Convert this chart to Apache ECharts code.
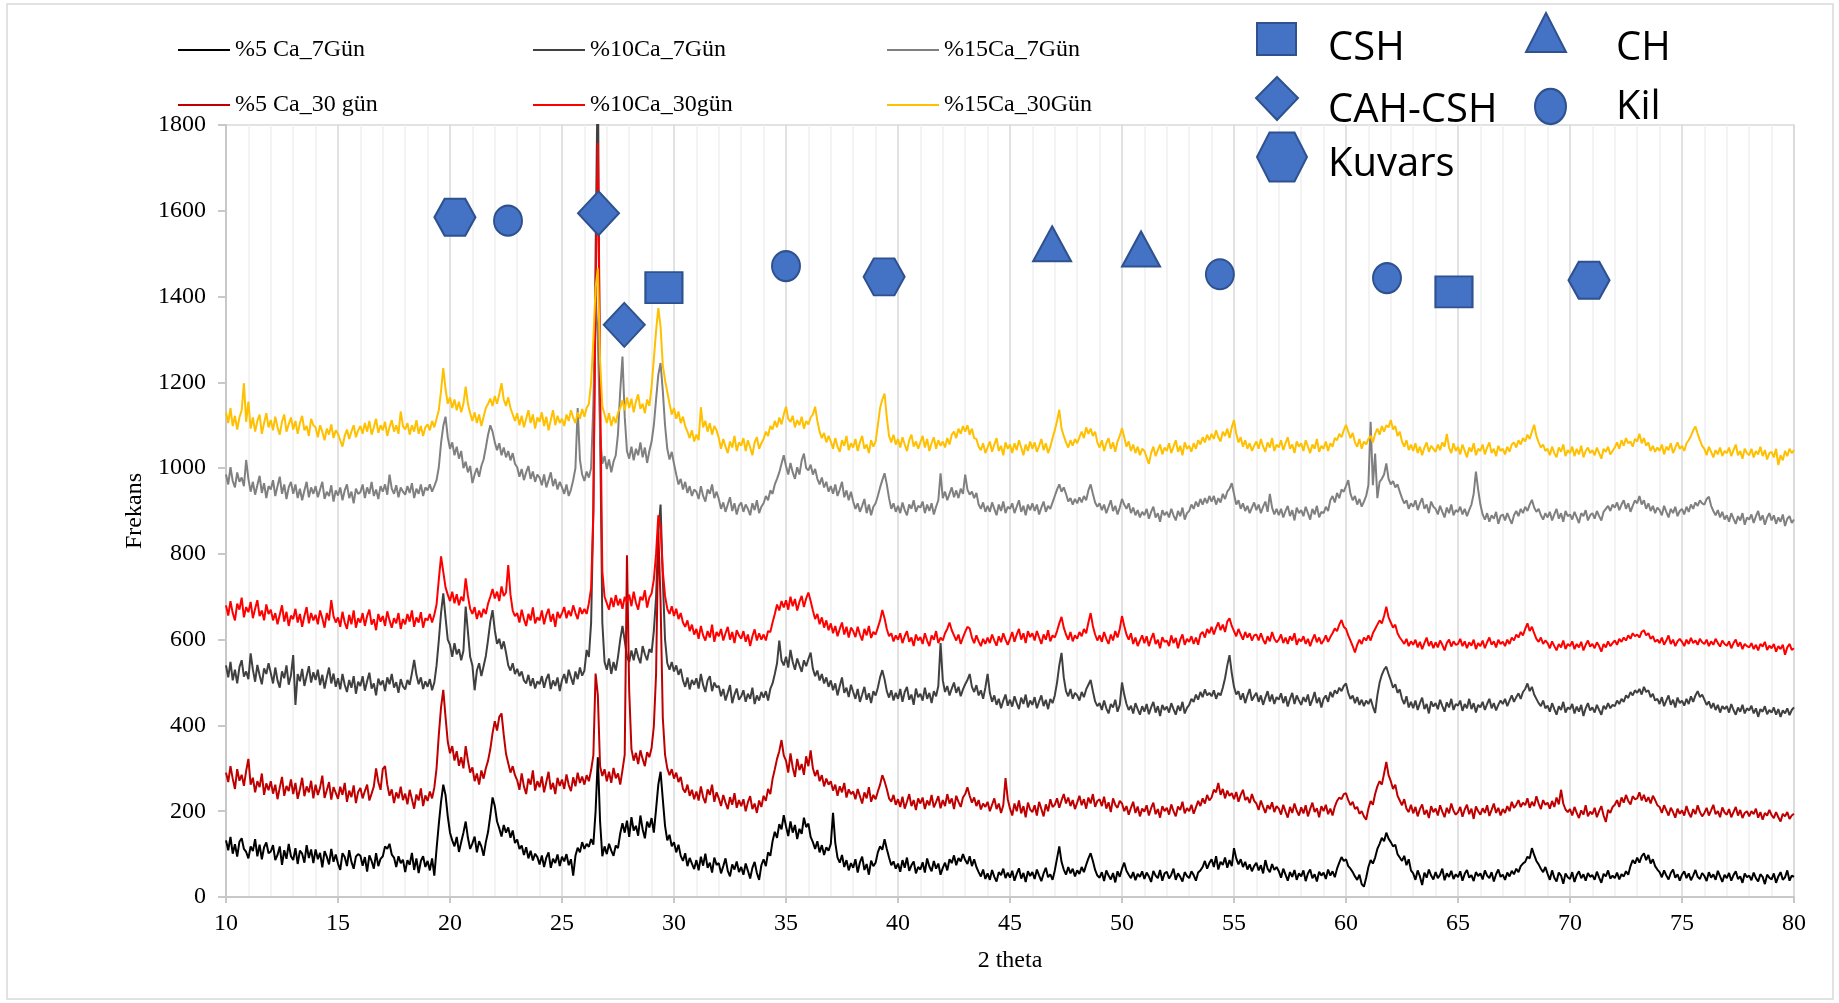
<!DOCTYPE html>
<html>
<head>
<meta charset="utf-8">
<title>XRD</title>
<style>
  html, body { margin: 0; padding: 0; background: #ffffff; }
  #chart { width: 1839px; height: 1003px; }
</style>
<script src="https://cdn.jsdelivr.net/npm/echarts@6/dist/echarts.min.js"></script>
</head>
<body>
<div id="chart"></div>
<script>
// 2θ sampling: 10.0° to 80.0° in 0.1° steps, one row per degree
const thetaStart = 10;
const thetaStep = 0.1;

// %5 Ca_7Gün
const ca5_7 = [
  [132,109,140,101,123,94,129,137,112,105],
  [90,118,107,135,95,122,88,116,127,102],
  [106,121,86,98,118,75,109,89,124,95],
  [86,114,77,108,101,80,121,91,111,79],
  [111,88,103,69,107,94,76,112,82,99],
  [78,63,102,93,72,109,82,66,94,100],
  [96,73,93,59,97,84,66,102,72,89],
  [95,118,112,124,99,92,70,95,79,87],
  [58,86,75,103,63,90,56,84,95,70],
  [84,62,90,50,112,170,222,262,238,188],
  [150,132,118,140,105,128,150,176,138,112],
  [125,141,104,130,118,96,128,152,190,232],
  [212,176,160,141,168,150,162,138,155,126],
  [134,112,120,98,116,90,108,85,101,93],
  [76,97,70,92,104,68,89,79,99,72],
  [94,83,100,74,88,50,96,115,104,128],
  [112,124,117,135,122,200,326,176,95,118],
  [100,124,108,96,120,114,148,172,150,178],
  [140,186,155,166,143,190,158,137,176,162],
  [184,150,205,262,292,228,166,132,145,118],
  [128,104,122,96,84,102,72,91,78,65],
  [86,62,94,73,101,68,80,57,92,75],
  [79,55,72,90,61,48,76,64,83,58],
  [70,52,78,61,43,68,82,56,40,74],
  [88,72,104,96,130,152,138,170,158,191],
  [165,142,176,150,168,135,159,147,185,163],
  [171,140,128,112,130,104,121,98,116,108],
  [124,196,126,92,80,98,70,86,62,79],
  [68,88,57,81,94,63,77,52,85,72],
  [80,104,118,110,135,112,92,74,83,66],
  [78,59,86,68,92,61,74,83,55,70],
  [64,81,57,90,71,60,84,66,78,52],
  [68,80,62,88,79,97,74,91,83,100],
  [86,77,95,72,88,70,58,48,64,42],
  [55,40,63,47,36,58,51,66,44,57],
  [45,61,38,54,67,43,56,35,60,49],
  [58,42,64,50,37,55,68,46,53,40],
  [62,90,118,82,64,52,70,55,66,48],
  [62,54,70,58,75,90,102,84,63,50],
  [45,58,37,62,50,41,56,34,60,47],
  [66,80,61,52,44,58,39,54,47,60],
  [42,57,48,35,61,50,44,63,38,55],
  [59,43,52,66,40,55,47,36,58,49],
  [44,60,51,38,57,62,70,84,66,79],
  [88,70,95,64,82,75,92,68,86,72],
  [114,90,76,88,70,82,64,76,60,72],
  [80,62,74,55,86,66,58,77,63,70],
  [60,45,66,52,38,58,47,63,40,55],
  [48,62,37,55,64,44,53,36,59,50],
  [57,42,64,50,60,46,66,80,93,84],
  [88,72,66,58,48,40,52,30,24,45],
  [70,86,78,92,112,124,138,130,150,136],
  [128,118,122,100,92,84,96,74,88,62],
  [55,40,62,48,28,57,45,64,50,41],
  [58,44,52,66,39,55,47,61,42,53],
  [46,60,38,54,63,45,51,37,58,49],
  [55,41,62,50,44,58,36,53,64,47],
  [52,40,57,48,61,53,66,58,72,78],
  [82,94,90,114,98,84,76,66,58,70],
  [54,40,62,45,36,57,50,31,55,46],
  [42,58,35,51,60,44,53,38,56,47],
  [51,40,59,45,33,54,48,62,43,50],
  [44,57,41,53,48,60,52,72,86,78],
  [92,80,95,102,86,98,78,88,72,64],
  [58,46,62,50,41,56,64,45,53,38],
  [52,60,44,55,39,50,63,47,42,56],
  [49,37,58,45,53,40,61,48,35,52],
  [44,56,38,51,60,42,48,33,55,46],
  [50,39,57,44,36,53,47,30,52,45],
  [41,55,33,48,58,40,46,62,38,50],
  [47]
];

// %10Ca_7Gün
const ca10_7 = [
  [540,512,548,505,530,498,536,552,514,526],
  [508,568,530,502,541,517,496,533,520,545],
  [522,498,535,505,488,526,510,540,495,517],
  [564,448,520,503,532,492,515,538,500,524],
  [506,530,494,518,486,512,535,498,521,490],
  [510,484,520,495,478,506,488,515,474,502],
  [492,515,481,503,523,486,498,470,509,494],
  [505,480,512,496,520,488,501,476,508,491],
  [484,506,495,522,553,518,496,512,485,503],
  [490,508,482,500,540,598,662,708,652,600],
  [588,560,592,566,578,552,574,677,618,560],
  [540,482,528,545,515,538,562,600,642,669],
  [622,590,602,578,596,570,540,528,545,520],
  [532,515,526,505,498,518,492,510,486,503],
  [496,515,488,508,520,485,505,492,512,480],
  [506,520,498,530,512,495,526,508,535,516],
  [528,576,560,640,900,1500,1950,1100,640,548],
  [530,556,520,548,528,560,600,632,598,560],
  [548,575,552,580,560,545,585,566,552,578],
  [570,620,700,850,915,742,600,545,530,548],
  [526,540,518,532,505,490,512,484,506,495],
  [510,486,520,494,478,505,515,480,500,489],
  [492,468,485,458,476,494,452,472,486,460],
  [468,482,455,474,462,488,450,470,458,478],
  [465,480,458,485,498,520,545,598,552,540],
  [560,535,576,548,530,556,540,525,552,538],
  [555,570,532,515,528,505,520,498,512,490],
  [505,482,498,470,492,512,476,488,466,495],
  [478,462,485,455,472,490,460,475,452,480],
  [470,488,512,529,508,480,465,482,458,476],
  [462,485,455,478,490,460,472,448,486,466],
  [474,458,488,462,476,452,480,468,492,592],
  [505,478,492,470,486,500,476,490,468,484],
  [496,506,520,490,478,494,470,482,462,488],
  [520,476,455,470,448,462,440,458,472,446],
  [460,444,468,452,438,465,450,472,442,458],
  [448,466,440,456,470,445,460,438,462,452],
  [470,500,540,569,512,480,468,485,462,476],
  [470,458,478,466,484,495,506,480,456,445],
  [452,436,458,440,428,450,442,460,432,448],
  [500,472,450,436,446,428,452,438,425,445],
  [432,450,426,442,455,430,445,422,448,436],
  [444,430,452,438,425,446,434,455,428,441],
  [448,462,455,472,460,478,466,484,470,476],
  [468,482,462,476,470,488,510,540,564,522],
  [490,472,480,460,475,452,470,485,458,468],
  [476,455,470,448,465,480,456,472,450,466],
  [460,475,452,468,444,462,476,450,470,458],
  [448,466,455,472,446,460,478,452,465,442],
  [462,470,455,478,466,482,474,488,480,492],
  [498,476,462,470,452,466,448,460,445,458],
  [450,462,444,429,470,500,518,530,537,520],
  [505,488,496,476,484,462,450,468,442,455],
  [440,458,436,452,465,438,450,428,456,444],
  [452,438,460,445,432,454,442,462,436,450],
  [446,458,434,450,440,462,438,452,430,448],
  [442,455,436,450,462,440,452,435,448,458],
  [450,462,445,458,470,455,466,475,462,478],
  [485,498,480,490,472,462,452,445,458,440],
  [446,432,452,438,425,445,436,455,430,442],
  [438,450,428,444,432,448,422,440,452,435],
  [442,430,448,436,425,446,438,452,440,448],
  [445,458,450,462,455,470,464,478,470,482],
  [476,485,472,490,478,482,466,474,458,462],
  [450,466,445,458,470,448,460,442,465,452],
  [458,446,462,450,468,455,470,480,466,472],
  [460,448,456,440,452,436,448,430,445,438],
  [445,430,450,436,425,442,432,448,428,440],
  [435,446,428,440,420,438,432,445,426,436],
  [430,442,425,438,420,435,428,440,424,436],
  [442]
];

// %15Ca_7Gün
const ca15_7 = [
  [985,962,1002,970,955,990,968,978,958,1019],
  [975,945,968,938,960,982,942,965,930,958],
  [950,972,935,958,980,940,962,928,955,968],
  [940,962,930,952,925,948,968,932,955,940],
  [958,932,950,968,928,945,935,960,922,948],
  [936,955,925,948,962,930,945,918,952,940],
  [944,962,930,955,940,968,935,950,928,958],
  [945,962,938,985,952,940,960,932,955,945],
  [938,958,942,965,930,952,940,962,935,955],
  [948,962,945,958,972,1002,1058,1098,1120,1072],
  [1045,1060,1030,1050,1022,1040,1000,1015,990,1005],
  [965,985,1000,980,1005,1020,1048,1078,1100,1085],
  [1060,1042,1058,1030,1048,1025,1040,1018,1035,1010],
  [1002,980,998,972,990,1005,975,992,968,985],
  [978,960,985,955,972,990,958,975,950,968],
  [955,940,962,935,950,972,1000,1140,1020,985],
  [970,992,978,1000,1150,1400,1300,1080,1010,1028],
  [998,1020,990,1015,1030,1080,1180,1260,1120,1040],
  [1022,1050,1018,1045,1030,1060,1025,1048,1012,1040],
  [1062,1100,1160,1218,1245,1180,1100,1045,1020,1038],
  [1010,985,962,975,950,968,942,958,935,950],
  [945,928,958,935,922,950,940,962,930,945],
  [928,905,920,898,915,932,900,918,892,912],
  [920,898,915,905,890,918,902,925,895,910],
  [918,935,925,948,940,962,975,990,1010,1030],
  [1005,985,1012,990,975,1002,985,1018,1034,1000],
  [995,1008,985,998,975,962,978,955,968,945],
  [958,940,962,935,950,968,932,948,925,945],
  [922,905,918,898,912,928,895,915,890,910],
  [918,935,955,972,988,962,930,905,918,898],
  [912,895,920,902,890,915,905,925,898,912],
  [908,922,895,915,900,918,892,910,925,988],
  [930,945,925,940,955,932,948,930,952,940],
  [985,950,938,945,930,942,915,905,920,898],
  [912,898,920,905,890,915,900,922,895,910],
  [905,918,895,910,925,898,912,890,915,902],
  [918,900,915,892,908,922,898,912,905,920],
  [935,950,962,945,955,940,922,930,915,928],
  [918,932,920,935,925,948,962,940,920,910],
  [918,902,915,895,910,925,900,912,892,908],
  [928,915,905,918,895,908,890,902,885,898],
  [890,905,882,898,910,885,895,875,902,890],
  [898,885,905,890,878,900,888,908,880,895],
  [900,915,905,922,910,928,915,930,918,935],
  [922,935,915,930,920,940,928,945,952,965],
  [940,915,925,905,918,900,912,895,908,920],
  [902,915,895,910,922,898,940,908,892,905],
  [890,905,885,900,912,888,902,878,908,895],
  [902,888,910,895,880,905,892,912,885,898],
  [895,910,900,925,935,920,942,930,950,945],
  [958,972,940,925,935,915,928,910,922,935],
  [960,1108,960,1034,930,968,975,985,1011,975],
  [962,970,955,962,945,930,918,925,905,918],
  [910,925,902,918,930,905,915,895,922,910],
  [905,892,912,898,885,908,895,915,890,902],
  [898,910,892,905,888,902,915,940,992,950],
  [915,892,880,895,875,890,882,898,870,888],
  [892,878,895,882,870,890,900,888,905,895],
  [910,900,915,926,908,898,905,890,880,895],
  [885,898,878,892,905,882,895,875,900,888],
  [892,880,898,885,872,895,888,902,878,890],
  [895,882,900,888,878,898,905,912,900,915],
  [908,920,902,915,925,905,918,898,912,925],
  [918,935,915,925,905,918,900,912,895,908],
  [902,890,912,898,885,905,895,910,888,900],
  [905,892,910,898,915,905,920,912,925,918],
  [915,928,933,912,900,890,902,885,898,880],
  [890,875,895,882,870,888,878,895,868,885],
  [880,892,872,888,900,878,890,868,885,895],
  [878,890,870,885,875,892,865,882,888,872],
  [880]
];

// %5 Ca_30 gün
const ca5_30 = [
  [290,268,305,276,252,298,271,285,259,294],
  [322,262,278,244,270,256,288,238,265,249],
  [270,241,262,228,255,280,236,259,247,274],
  [240,266,229,251,278,235,258,244,271,230],
  [262,238,255,283,231,249,268,227,256,243],
  [229,257,238,266,222,248,233,260,219,245],
  [254,230,247,262,225,241,258,300,268,250],
  [298,305,262,236,251,219,244,230,257,226],
  [241,216,250,228,206,239,225,253,212,237],
  [224,246,230,255,300,378,442,483,420,362],
  [335,352,318,340,306,326,300,352,318,290],
  [302,270,288,262,295,276,300,318,345,382],
  [410,388,420,428,378,334,312,290,305,284],
  [272,250,288,258,240,276,262,295,248,270],
  [256,281,244,268,292,251,266,240,278,259],
  [274,252,286,261,247,279,258,290,266,281],
  [262,284,270,296,330,521,470,305,282,298],
  [270,292,266,301,277,288,262,296,332,797],
  [480,345,318,336,310,342,322,305,338,326],
  [348,398,520,852,690,418,332,300,284,298],
  [276,290,268,280,252,244,262,236,250,228],
  [246,225,258,233,219,251,238,262,222,244],
  [230,212,238,220,205,233,215,242,208,226],
  [212,228,200,221,235,205,218,196,225,210],
  [236,224,252,240,275,298,322,340,366,330],
  [318,290,335,302,280,322,296,310,285,328],
  [305,342,300,282,296,270,284,258,276,262],
  [270,248,262,236,258,244,266,232,251,240],
  [246,228,252,235,218,244,230,256,222,238],
  [228,246,262,284,270,252,230,222,238,215],
  [228,210,234,206,222,240,212,226,203,230],
  [218,232,205,225,214,238,209,221,235,207],
  [226,212,240,218,230,205,236,222,210,232],
  [240,256,236,220,232,212,226,204,218,210],
  [222,200,215,230,205,218,196,214,277,228],
  [206,190,218,200,225,195,212,186,220,204],
  [198,214,190,222,205,188,216,200,228,210],
  [215,230,208,225,240,218,232,212,226,205],
  [220,236,214,228,206,232,218,240,210,224],
  [228,212,234,206,221,198,230,215,208,224],
  [218,200,212,192,208,222,196,211,188,206],
  [199,214,190,207,220,193,205,185,212,200],
  [208,192,216,200,188,211,203,222,195,207],
  [200,215,194,209,224,212,230,218,238,225],
  [232,250,244,266,238,252,230,248,236,242],
  [228,245,222,238,250,226,233,219,240,224],
  [218,203,225,210,196,214,205,221,198,212],
  [206,192,215,199,185,210,196,218,201,190],
  [209,195,214,188,205,220,198,207,186,212],
  [200,215,193,206,190,211,224,232,228,240],
  [242,226,214,222,205,210,194,200,188,180],
  [206,224,215,240,258,270,262,288,315,284],
  [270,252,262,236,225,214,228,206,198,215],
  [195,210,188,205,216,192,203,184,212,198],
  [206,190,214,199,186,208,195,218,201,192],
  [198,210,187,204,215,193,206,182,211,200],
  [192,207,196,214,189,203,218,196,208,190],
  [205,196,212,200,222,208,215,226,210,220],
  [214,230,208,222,212,235,218,205,226,215],
  [220,206,224,210,232,216,250,218,204,198],
  [205,190,210,196,184,202,192,214,188,199],
  [193,208,186,200,212,190,175,203,196,210],
  [215,226,210,232,220,238,224,216,235,228],
  [230,244,225,238,222,233,218,236,226,214],
  [210,196,214,202,190,208,198,185,206,194],
  [202,190,212,196,186,205,193,214,198,188],
  [196,208,190,202,215,193,200,186,209,197],
  [192,205,186,198,210,190,203,184,196,200],
  [188,200,193,206,185,198,180,196,190,203],
  [191,184,198,186,176,194,188,198,182,190],
  [194]
];

// %10Ca_30gün
const ca10_30 = [
  [680,656,690,662,645,684,670,698,652,676],
  [664,688,650,672,692,655,668,645,682,660],
  [670,645,662,636,658,680,642,665,632,656],
  [648,672,640,660,630,655,676,638,662,645],
  [658,636,668,650,628,662,645,692,655,640],
  [652,630,665,640,625,658,636,668,628,650],
  [640,662,632,655,670,635,648,622,660,642],
  [655,632,666,645,628,650,638,662,625,648],
  [636,660,642,668,630,652,640,664,628,650],
  [645,660,640,658,682,740,794,758,722,705],
  [690,712,685,706,680,700,690,743,702,672],
  [660,676,648,668,652,672,660,684,700,718],
  [696,712,690,724,702,710,774,705,668,655],
  [662,640,670,648,632,660,645,675,638,652],
  [645,668,636,658,672,642,660,630,665,650],
  [662,676,650,668,655,680,662,648,675,660],
  [672,660,685,720,900,1400,1758,1200,760,700],
  [685,670,698,676,704,680,695,672,700,688],
  [705,678,712,686,670,700,692,715,675,698],
  [708,740,800,890,862,760,702,672,660,678],
  [655,672,648,662,640,630,645,620,635,612],
  [625,602,632,610,598,620,605,635,595,618],
  [608,625,598,615,630,600,618,592,622,610],
  [602,620,595,612,585,608,624,598,615,600],
  [612,598,620,618,640,660,682,668,690,675],
  [692,670,700,678,695,668,688,702,676,696],
  [710,690,668,648,660,636,652,628,645,622],
  [638,615,632,608,625,640,612,630,605,628],
  [620,606,630,612,598,625,610,632,604,618],
  [612,628,645,669,650,625,608,615,596,610],
  [600,615,592,608,620,595,605,585,612,598],
  [606,590,615,598,585,610,600,620,592,605],
  [598,615,625,640,622,610,598,612,590,605],
  [618,630,626,605,592,610,596,585,602,590],
  [605,592,612,598,586,608,594,615,600,588],
  [602,618,595,612,625,600,615,592,620,606],
  [615,598,620,605,590,612,600,622,596,610],
  [605,620,638,653,628,612,600,618,596,610],
  [602,618,608,625,615,640,662,632,612,598],
  [610,595,618,602,590,612,598,620,605,625],
  [655,632,612,600,615,590,605,585,598,610],
  [592,608,585,602,615,590,600,580,606,595],
  [598,585,610,592,604,580,600,612,588,602],
  [595,608,590,605,588,612,618,605,625,615],
  [630,612,628,640,622,635,618,642,650,632],
  [620,608,625,612,600,618,605,615,598,610],
  [612,598,615,600,590,608,596,618,602,594],
  [600,612,592,605,590,608,598,615,588,602],
  [596,608,590,602,585,600,612,594,605,590],
  [598,610,595,606,615,626,620,635,646,630],
  [625,610,598,585,570,588,600,590,605,598],
  [610,598,615,625,635,645,638,655,677,652],
  [640,628,635,615,605,598,590,602,585,596],
  [588,600,582,595,578,592,605,585,596,580],
  [594,582,598,588,575,592,600,584,596,588],
  [590,602,585,596,580,594,586,600,578,592],
  [585,598,580,594,605,588,596,582,600,590],
  [595,585,600,590,605,598,612,605,618,610],
  [625,638,620,630,615,602,595,605,590,598],
  [592,580,596,585,575,590,582,598,578,590],
  [585,596,578,590,582,595,575,588,598,584],
  [590,580,594,585,572,590,582,596,585,592],
  [598,588,602,595,605,598,610,602,615,608],
  [612,605,618,622,610,615,602,608,595,600],
  [592,605,588,598,610,590,600,585,596,602],
  [595,585,600,590,604,592,598,588,602,594],
  [590,600,585,596,588,602,592,584,598,590],
  [586,596,580,592,600,584,594,578,590,585],
  [582,592,578,588,575,590,584,595,576,586],
  [580,590,572,585,578,588,565,582,590,576],
  [580]
];

// %15Ca_30Gün
const ca15_30 = [
  [1130,1105,1140,1098,1122,1090,1118,1135,1198,1108],
  [1155,1092,1118,1085,1110,1125,1080,1105,1128,1095],
  [1112,1088,1120,1095,1078,1108,1125,1085,1102,1118],
  [1090,1110,1080,1105,1122,1088,1098,1075,1115,1100],
  [1095,1072,1100,1085,1065,1092,1078,1102,1070,1088],
  [1080,1065,1050,1075,1090,1068,1085,1100,1072,1088],
  [1098,1080,1105,1085,1110,1078,1095,1115,1082,1100],
  [1088,1108,1075,1095,1112,1085,1100,1080,1132,1098],
  [1090,1105,1078,1100,1085,1112,1080,1098,1075,1095],
  [1102,1088,1110,1095,1115,1135,1180,1233,1185,1150],
  [1165,1140,1160,1135,1155,1130,1150,1190,1150,1128],
  [1110,1130,1105,1125,1098,1120,1140,1150,1162,1145],
  [1168,1150,1172,1198,1160,1145,1165,1140,1125,1110],
  [1128,1100,1122,1095,1115,1135,1105,1125,1092,1118],
  [1108,1130,1098,1120,1088,1112,1135,1100,1122,1105],
  [1115,1098,1125,1110,1135,1118,1105,1130,1115,1138],
  [1120,1140,1150,1200,1300,1420,1466,1250,1145,1125],
  [1105,1128,1098,1120,1105,1130,1140,1158,1135,1165],
  [1140,1162,1130,1155,1172,1138,1150,1128,1160,1145],
  [1190,1255,1320,1373,1330,1240,1205,1178,1150,1125],
  [1140,1115,1132,1105,1120,1098,1085,1070,1088,1062],
  [1078,1065,1142,1095,1110,1085,1105,1078,1098,1088],
  [1070,1045,1068,1050,1035,1062,1048,1075,1040,1060],
  [1052,1070,1040,1065,1048,1030,1060,1072,1045,1058],
  [1068,1085,1075,1098,1090,1110,1095,1118,1102,1125],
  [1143,1115,1108,1122,1095,1112,1100,1120,1092,1110],
  [1102,1118,1125,1143,1110,1085,1070,1082,1060,1075],
  [1062,1045,1070,1050,1038,1065,1052,1075,1042,1058],
  [1048,1068,1040,1060,1075,1045,1055,1035,1065,1050],
  [1062,1100,1140,1160,1174,1118,1075,1060,1078,1055],
  [1068,1048,1072,1055,1040,1065,1078,1050,1062,1045],
  [1060,1075,1048,1068,1040,1058,1072,1045,1065,1052],
  [1062,1048,1070,1055,1078,1085,1070,1092,1080,1098],
  [1085,1100,1078,1092,1070,1068,1050,1042,1058,1035],
  [1048,1062,1038,1055,1070,1040,1052,1030,1060,1045],
  [1055,1035,1058,1042,1065,1048,1030,1055,1040,1062],
  [1045,1060,1038,1052,1068,1042,1058,1035,1050,1070],
  [1088,1110,1136,1092,1075,1060,1048,1065,1052,1068],
  [1058,1072,1085,1070,1095,1080,1092,1075,1085,1060],
  [1048,1065,1040,1058,1070,1045,1060,1038,1062,1075],
  [1093,1072,1050,1062,1040,1055,1035,1050,1030,1045],
  [1040,1025,1010,1035,1050,1028,1042,1055,1032,1048],
  [1040,1058,1035,1050,1065,1038,1052,1030,1060,1045],
  [1052,1038,1058,1045,1065,1055,1072,1060,1078,1065],
  [1080,1068,1088,1072,1062,1085,1075,1092,1070,1095],
  [1112,1080,1060,1072,1050,1065,1045,1058,1040,1052],
  [1062,1045,1068,1050,1038,1060,1048,1070,1040,1055],
  [1048,1065,1042,1058,1072,1045,1055,1035,1062,1050],
  [1058,1040,1065,1050,1035,1055,1045,1068,1038,1052],
  [1045,1062,1040,1058,1050,1070,1065,1080,1072,1088],
  [1101,1085,1070,1082,1060,1050,1068,1045,1062,1055],
  [1068,1075,1060,1080,1092,1078,1098,1085,1100,1095],
  [1112,1090,1098,1075,1085,1062,1050,1065,1042,1055],
  [1040,1058,1035,1050,1030,1048,1060,1038,1052,1045],
  [1038,1055,1042,1060,1050,1080,1048,1035,1058,1040],
  [1050,1032,1055,1040,1025,1048,1038,1058,1030,1045],
  [1040,1055,1032,1048,1060,1035,1045,1028,1052,1040],
  [1045,1032,1050,1038,1055,1060,1048,1065,1055,1070],
  [1062,1078,1068,1085,1101,1075,1060,1048,1055,1040],
  [1045,1030,1050,1035,1025,1048,1038,1055,1028,1042],
  [1035,1050,1028,1045,1032,1052,1025,1040,1048,1035],
  [1042,1030,1048,1035,1022,1045,1038,1050,1032,1040],
  [1048,1060,1045,1065,1052,1070,1058,1062,1050,1068],
  [1062,1080,1058,1070,1052,1060,1040,1052,1038,1048],
  [1040,1055,1032,1050,1042,1058,1035,1048,1060,1045],
  [1052,1040,1058,1065,1075,1088,1097,1080,1065,1052],
  [1045,1030,1050,1038,1025,1042,1032,1048,1028,1040],
  [1035,1048,1028,1042,1055,1030,1040,1022,1045,1035],
  [1030,1045,1025,1040,1032,1050,1028,1042,1020,1035],
  [1038,1025,1045,1007,1030,1018,1040,1028,1045,1035],
  [1042]
];

// Phase markers: [2θ, position]
const markCSH = [[29.55, 1421], [64.82, 1411]];
const markCAHCSH = [[26.63, 1594], [27.78, 1334]];
const markKuvars = [[20.22, 1585], [39.38, 1446], [70.85, 1438]];
const markCH = [[46.88, 1523], [50.85, 1511]];
const markKil = [[22.59, 1577], [35.0, 1471], [54.37, 1452], [61.83, 1443]];

const xTicks = { min: 10, max: 80, step: 5 };
const yTicks = { min: 0, max: 1800, step: 200 };

function toPoints(rows) {
  const pts = [];
  rows.forEach((row, r) => {
    row.forEach((v, c) => {
      const x = Math.round((thetaStart + r + c * thetaStep) * 10) / 10;
      pts.push([x, v]);
    });
  });
  return pts;
}

const traces = [
  { name: '%5 Ca_7Gün', rows: ca5_7, color: '#000000' },
  { name: '%10Ca_7Gün', rows: ca10_7, color: '#404040' },
  { name: '%15Ca_7Gün', rows: ca15_7, color: '#808080' },
  { name: '%5 Ca_30 gün', rows: ca5_30, color: '#C00000' },
  { name: '%10Ca_30gün', rows: ca10_30, color: '#FF0000' },
  { name: '%15Ca_30Gün', rows: ca15_30, color: '#FFC000' }
];

const phaseFill = '#4472C4';
const phaseEdge = '#2F528F';
const hexPath = 'path://M0,50 L25,0 L75,0 L100,50 L75,100 L25,100 Z';

const phases = [
  { name: 'CSH', data: markCSH, symbol: 'rect', size: [37, 31] },
  { name: 'CAH-CSH', data: markCAHCSH, symbol: 'diamond', size: [41, 44] },
  { name: 'Kuvars', data: markKuvars, symbol: hexPath, size: [41, 37] },
  { name: 'CH', data: markCH, symbol: 'triangle', size: [38, 35] },
  { name: 'Kil', data: markKil, symbol: 'circle', size: [28, 30] }
];

const serif = '"Liberation Serif", "Times New Roman", serif';
const sans = '"Open Sans", "Noto Sans", sans-serif';

// line legends: three columns, two rows
const legendCols = [178, 533, 887];
const legendRows = [50, 105];
const legends = traces.map((t, i) => ({
  data: [t.name],
  left: legendCols[i % 3],
  top: legendRows[Math.floor(i / 3)] - 14,
  orient: 'horizontal',
  padding: 0,
  icon: 'rect',
  itemWidth: 52,
  itemHeight: 2,
  selectedMode: false,
  textStyle: { fontFamily: serif, fontSize: 24, color: '#000', lineHeight: 28 }
}));

const axisGray = '#c8c8c8';
const keyFont = '40px ' + sans;
const keyShape = { fill: phaseFill, stroke: phaseEdge, lineWidth: 2 };

const option = {
  animation: false,
  backgroundColor: '#ffffff',
  grid: {
    left: 226, top: 125, width: 1568, height: 772,
    show: true, borderColor: '#d9d9d9', borderWidth: 1.5, backgroundColor: 'transparent'
  },
  legend: legends,
  xAxis: {
    type: 'value',
    min: xTicks.min, max: xTicks.max, interval: xTicks.step,
    name: '2 theta', nameLocation: 'middle', nameGap: 52,
    nameTextStyle: { fontFamily: serif, fontSize: 24, color: '#000' },
    axisLine: { show: true, lineStyle: { color: axisGray, width: 2 } },
    axisTick: { show: true, length: 6, lineStyle: { color: axisGray, width: 2 } },
    axisLabel: { fontFamily: serif, fontSize: 24, color: '#000', margin: 15 },
    splitLine: { show: true, lineStyle: { color: '#d9d9d9', width: 1.5 } },
    minorTick: { show: false, splitNumber: 5 },
    minorSplitLine: { show: true, lineStyle: { color: '#f0f0f0', width: 1.5 } }
  },
  yAxis: {
    type: 'value',
    min: yTicks.min, max: yTicks.max, interval: yTicks.step,
    name: 'Frekans', nameLocation: 'middle', nameGap: 64, nameRotate: 90,
    nameTextStyle: { fontFamily: serif, fontSize: 24, color: '#000' },
    axisLine: { show: true, lineStyle: { color: axisGray, width: 2 } },
    axisTick: { show: true, length: 8, lineStyle: { color: axisGray, width: 2 } },
    axisLabel: { fontFamily: serif, fontSize: 24, color: '#000', margin: 20, formatter: v => String(v) },
    splitLine: { show: false }
  },
  graphic: [
    {
      type: 'rect', silent: true, z: -1,
      shape: { x: 7, y: 4, width: 1826, height: 995 },
      style: { fill: 'none', stroke: '#d9d9d9', lineWidth: 1.5 }
    },
    // phase key
    { type: 'rect', z: 100, shape: { x: 1257, y: 23, width: 39, height: 32 }, style: keyShape },
    { type: 'polygon', z: 100, shape: { points: [[1277, 77], [1298, 98], [1277, 120], [1256, 98]] }, style: keyShape },
    { type: 'polygon', z: 100, shape: { points: [[1257, 157], [1269.5, 132.5], [1294.5, 132.5], [1307, 157], [1294.5, 181.5], [1269.5, 181.5]] }, style: keyShape },
    { type: 'polygon', z: 100, shape: { points: [[1546, 13], [1566, 52], [1526, 52]] }, style: keyShape },
    { type: 'circle', z: 100, shape: { cx: 0, cy: 0, r: 15.5 }, x: 1550.5, y: 106.5, scaleY: 1.13, style: keyShape },
    { type: 'text', z: 100, x: 1328, y: 49, style: { text: 'CSH', font: keyFont, fill: '#000', textVerticalAlign: 'middle' } },
    { type: 'text', z: 100, x: 1328, y: 111, style: { text: 'CAH-CSH', font: keyFont, fill: '#000', textVerticalAlign: 'middle' } },
    { type: 'text', z: 100, x: 1328, y: 165, style: { text: 'Kuvars', font: keyFont, fill: '#000', textVerticalAlign: 'middle' } },
    { type: 'text', z: 100, x: 1616, y: 49, style: { text: 'CH', font: keyFont, fill: '#000', textVerticalAlign: 'middle' } },
    { type: 'text', z: 100, x: 1616, y: 108, style: { text: 'Kil', font: keyFont, fill: '#000', textVerticalAlign: 'middle' } }
  ],
  series: [
    ...traces.map(t => ({
      name: t.name,
      type: 'line',
      data: toPoints(t.rows),
      symbol: 'none',
      showSymbol: false,
      clip: true,
      color: t.color,
      lineStyle: { color: t.color, width: 2 },
      emphasis: { disabled: true }
    })),
    ...phases.map(p => ({
      name: p.name,
      type: 'scatter',
      data: p.data,
      symbol: p.symbol,
      symbolSize: p.size,
      z: 5,
      itemStyle: { color: phaseFill, borderColor: phaseEdge, borderWidth: 2, opacity: 1 },
      emphasis: { disabled: true }
    }))
  ]
};

const chart = echarts.init(document.getElementById('chart'), null, { renderer: 'canvas' });
chart.setOption(option);
</script>
</body>
</html>
